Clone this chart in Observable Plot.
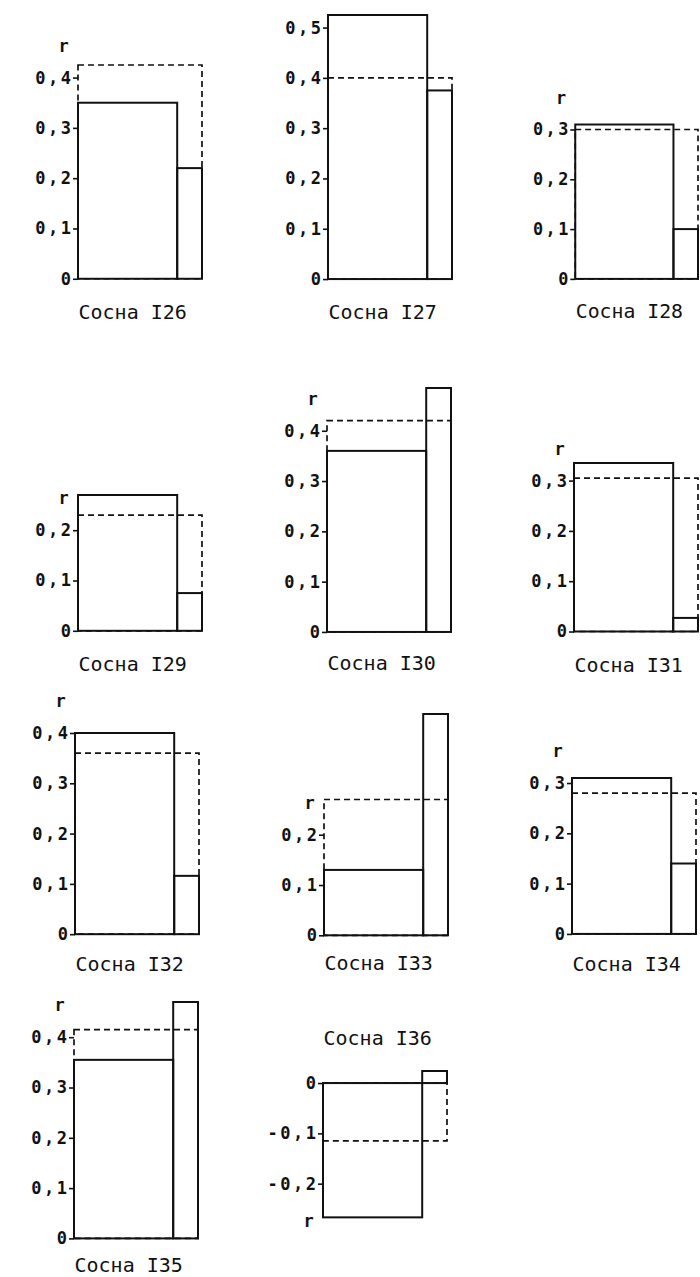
<!DOCTYPE html>
<html>
<head>
<meta charset="utf-8">
<script src="https://cdn.jsdelivr.net/npm/d3@7"></script>
<script src="https://cdn.jsdelivr.net/npm/@observablehq/plot@0.6"></script>
<style>
  html, body { margin: 0; padding: 0; background: #fff; }
  #page { position: relative; width: 700px; height: 1277px; overflow: hidden; background: #fff; }
  .panel { position: absolute; }
  .panel svg { overflow: visible; }
  .panel g[aria-label="y-axis tick label"] text { letter-spacing: 2.5px; }
</style>
</head>
<body>
<div id="page"></div>
<script>
// ---- data ----
const trees = ["Сосна I26", "Сосна I27", "Сосна I28", "Сосна I29", "Сосна I30", "Сосна I31",
               "Сосна I32", "Сосна I33", "Сосна I34", "Сосна I35", "Сосна I36"];
const wideR   = [0.35, 0.525, 0.31, 0.27, 0.36, 0.335, 0.40, 0.13, 0.31, 0.355, -0.267];
const narrowR = [0.22, 0.375, 0.10, 0.075, 0.485, 0.027, 0.116, 0.44, 0.14, 0.47, 0.024];
const dashedR = [0.425, 0.40, 0.30, 0.23, 0.42, 0.305, 0.36, 0.27, 0.28, 0.415, -0.115];
const tickSets = [
  [0, 0.1, 0.2, 0.3, 0.4],
  [0, 0.1, 0.2, 0.3, 0.4, 0.5],
  [0, 0.1, 0.2, 0.3],
  [0, 0.1, 0.2],
  [0, 0.1, 0.2, 0.3, 0.4],
  [0, 0.1, 0.2, 0.3],
  [0, 0.1, 0.2, 0.3, 0.4],
  [0, 0.1, 0.2],
  [0, 0.1, 0.2, 0.3],
  [0, 0.1, 0.2, 0.3, 0.4],
  [0, -0.1, -0.2]
];
const showR = [true, false, true, true, true, true, true, true, true, true, true];
const axisLetter = "r";
const wideShare = 0.8; // share of the panel width taken by the wide bar

// ---- layout (page positions of each panel frame: left edge, zero line; title offset) ----
const frameLeft = [78, 328, 576, 78, 327, 574, 75, 324, 572, 74, 323];
const zeroY     = [279, 279, 281, 631, 632, 632, 934, 935, 934, 1238, 1083];
const titleDy   = [33, 33, 33, 33, 31, 34, 30, 28, 30, 27, -33];
const pxPerUnit = 503;
const frameW = 124;
const mL = 78, mR = 2, mT = 50, mB = 50;
const font = "'DejaVu Sans Mono', monospace";

const page = document.getElementById("page");
const fmt = d => d === 0 ? "0" : d.toFixed(1).replace(".", ",");

trees.forEach((name, i) => {
  const vals = [0, wideR[i], narrowR[i], dashedR[i]];
  const ymax = Math.max(...vals), ymin = Math.min(...vals);
  const h = mT + mB + (ymax - ymin) * pxPerUnit;
  const bars = [
    {x1: 0, x2: wideShare, v: wideR[i]},
    {x1: wideShare, x2: 1, v: narrowR[i]}
  ];
  const negative = wideR[i] < 0;
  const ticks = tickSets[i];
  const edgeTick = negative ? d3.min(ticks) : d3.max(ticks);
  const marks = [
    Plot.axisY({ticks, tickFormat: fmt, tickSize: 5, tickPadding: 0,
                fontSize: 17, fontWeight: "bold", strokeWidth: 1.6, label: null}),
    Plot.rect([{x1: 0, x2: 1, v: dashedR[i]}], {x1: "x1", x2: "x2", y1: 0, y2: "v",
              fill: "none", stroke: "#111", strokeWidth: 1.7, strokeDasharray: "6,4"}),
    Plot.rect(bars, {x1: "x1", x2: "x2", y1: 0, y2: "v",
              fill: "none", stroke: "#111", strokeWidth: 2}),
    Plot.text([name], {frameAnchor: negative ? "top-left" : "bottom-left",
              dy: titleDy[i], text: d => d, textAnchor: "start",
              lineAnchor: "middle", fontSize: 20, fill: "#111"})
  ];
  if (showR[i]) {
    marks.push(Plot.text([edgeTick], {y: d => d, frameAnchor: "left", dx: -20,
              dy: negative ? 37 : -32, text: () => axisLetter, fontSize: 17,
              fontWeight: "bold", fill: "#111"}));
  }
  const chart = Plot.plot({
    width: mL + frameW + mR,
    height: h,
    marginLeft: mL, marginRight: mR, marginTop: mT, marginBottom: mB,
    style: {fontFamily: font, color: "#111", background: "transparent"},
    x: {domain: [0, 1], axis: null},
    y: {domain: [ymin, ymax], axis: null},
    marks
  });
  const div = document.createElement("div");
  div.className = "panel";
  div.style.left = (frameLeft[i] - mL) + "px";
  div.style.top = (zeroY[i] - ymax * pxPerUnit - mT) + "px";
  div.appendChild(chart);
  page.appendChild(div);
});
</script>
</body>
</html>
